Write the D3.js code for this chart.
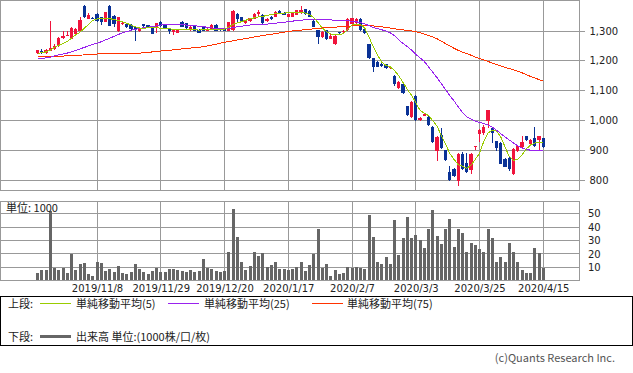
<!DOCTYPE html>
<html><head><meta charset="utf-8">
<script src="https://cdn.jsdelivr.net/npm/d3@7"></script>
<style>body{margin:0;background:#fff}svg{display:block}</style>
</head><body><svg id="c" width="633" height="373"></svg>
<script>
const dates = ["2019/10/17","2019/10/18","2019/10/21","2019/10/23","2019/10/24","2019/10/25","2019/10/28","2019/10/29","2019/10/30","2019/10/31",
"2019/11/1","2019/11/5","2019/11/6","2019/11/7","2019/11/8",
"2019/11/11","2019/11/12","2019/11/13","2019/11/14","2019/11/15","2019/11/18","2019/11/19","2019/11/20","2019/11/21","2019/11/22","2019/11/25","2019/11/26","2019/11/27","2019/11/28","2019/11/29",
"2019/12/2","2019/12/3","2019/12/4","2019/12/5","2019/12/6","2019/12/9","2019/12/10","2019/12/11","2019/12/12","2019/12/13","2019/12/16","2019/12/17","2019/12/18","2019/12/19","2019/12/20",
"2019/12/23","2019/12/24","2019/12/25","2019/12/26","2019/12/27","2019/12/30",
"2020/1/6","2020/1/7","2020/1/8","2020/1/9","2020/1/10","2020/1/14","2020/1/15","2020/1/16","2020/1/17",
"2020/1/20","2020/1/21","2020/1/22","2020/1/23","2020/1/24","2020/1/27","2020/1/28","2020/1/29","2020/1/30","2020/1/31",
"2020/2/3","2020/2/4","2020/2/5","2020/2/6","2020/2/7",
"2020/2/10","2020/2/12","2020/2/13","2020/2/14","2020/2/17","2020/2/18","2020/2/19","2020/2/20","2020/2/21","2020/2/25","2020/2/26","2020/2/27","2020/2/28","2020/3/2","2020/3/3",
"2020/3/4","2020/3/5","2020/3/6","2020/3/9","2020/3/10","2020/3/11","2020/3/12","2020/3/13","2020/3/16","2020/3/17","2020/3/18","2020/3/19","2020/3/23","2020/3/24","2020/3/25",
"2020/3/26","2020/3/27","2020/3/30","2020/3/31","2020/4/1","2020/4/2","2020/4/3","2020/4/6","2020/4/7","2020/4/8","2020/4/9","2020/4/10","2020/4/13","2020/4/14","2020/4/15"];

const open = [1225,1233,1225,1234,1240,1250,1278,1284,1274,1289,
1300,1384,1341,1344,1357,1346,1331,1384,1350,1300,
1324,1323,1320,1312,1300,1323,1319,1314,1314,1330,
1322,1307,1296,1294,1330,1326,1303,1319,1305,1314,
1301,1308,1321,1309,1309,1301,1303,1357,1346,1326,
1333,1341,1357,1354,1332,1348,1348,1367,1361,1348,
1348,1355,1359,1373,1367,1335,1303,1279,1303,1274,
1256,1295,1295,1303,1324,1326,1341,1306,1256,1208,
1197,1191,1189,1175,1149,1108,1124,1048,1012,1082,
1001,1016,1012,979,898,952,900,828,839,798,
887,857,836,911,954,959,997,976,931,925,
873,876,820,897,911,947,921,943,934,941];
const high = [1238,1240,1240,1334,1256,1280,1300,1300,1312,1310,
1346,1386,1359,1346,1360,1348,1365,1386,1352,1348,
1333,1325,1322,1314,1313,1325,1321,1316,1328,1332,
1324,1309,1305,1307,1334,1328,1316,1321,1307,1316,
1310,1323,1323,1311,1311,1331,1370,1359,1348,1337,
1344,1359,1370,1356,1343,1350,1366,1369,1363,1358,
1361,1372,1384,1375,1369,1337,1305,1300,1305,1292,
1285,1298,1302,1343,1345,1343,1343,1308,1258,1210,
1199,1193,1191,1182,1151,1132,1126,1050,1065,1084,
1012,1023,1014,982,950,976,902,847,841,890,
895,890,890,916,972,985,1037,978,933,927,
875,878,908,918,947,949,938,979,949,943];
const low = [1223,1222,1224,1232,1238,1248,1273,1283,1272,1287,
1298,1344,1340,1340,1331,1320,1329,1316,1314,1298,
1319,1310,1304,1268,1298,1315,1310,1289,1294,1315,
1309,1291,1288,1292,1312,1308,1301,1299,1292,1299,
1299,1306,1299,1301,1299,1299,1301,1326,1330,1324,
1331,1339,1350,1324,1330,1337,1346,1359,1352,1346,
1346,1353,1357,1354,1346,1312,1255,1277,1271,1272,
1253,1287,1293,1301,1322,1320,1301,1291,1206,1163,
1178,1180,1173,1173,1117,1106,1089,1016,1008,999,
999,1014,983,926,865,905,865,798,811,781,
834,825,822,901,928,951,975,925,897,854,
843,830,818,895,909,932,919,913,902,909];
const close = [1236,1227,1238,1244,1250,1278,1283,1288,1310,1308,
1337,1346,1355,1342,1333,1330,1363,1318,1322,1346,
1328,1312,1306,1305,1311,1317,1312,1291,1326,1317,
1311,1301,1303,1305,1314,1310,1314,1301,1294,1301,
1308,1321,1301,1303,1301,1329,1368,1339,1332,1335,
1342,1357,1364,1326,1341,1339,1364,1361,1354,1356,
1359,1370,1370,1356,1348,1314,1281,1298,1273,1283,
1283,1292,1300,1341,1342,1341,1303,1293,1208,1180,
1180,1182,1175,1180,1121,1130,1091,1018,1063,1001,
1010,1021,985,929,945,907,867,800,813,888,
839,828,888,914,970,979,1035,959,909,856,
845,837,906,916,929,934,936,915,947,911];
const volume = [5.7,7.7,7.7,51.8,9.7,7.7,9.7,5.7,19.7,7.7,
12.1,13.1,4.8,3.3,13.6,13.1,7.3,8.5,6.7,10.7,
5.7,4.9,6.3,12.1,8.5,6.7,4.9,7,9.7,6.3,
6.7,8.5,8.5,8,7.3,6.7,8,6.8,7,15.8,
9.4,8.5,7,6.3,7.3,21.7,53.5,32.7,14.3,7.7,
10.7,21.7,18.7,21,9.9,11.4,13.6,8.5,8.5,7.7,
8.5,9.9,13.6,7,11.4,20.2,38.6,9.2,12.8,3.3,
7.7,4.8,5.5,9.9,9.4,9.9,9.4,8.5,48.9,32.7,
13.6,12.8,18,12.1,45.2,19.5,32,47.4,32,34.2,
30.5,24.6,38.6,52.6,33.5,27.6,38.6,46,25.4,38.6,
35.7,21.7,28.3,26.8,23.9,21.7,38.6,32,13.6,17.3,
14.3,28.3,21.7,13.6,7.7,5.5,5.5,24.6,21,9.2];
const ma5 = [1225,1227,1230,1236,1245,1252,1258,1265,1276,1287,
1296,1309,1322,1336,1340,1342,1342,1341,1339,1335,
1331,1326,1320,1314,1310,1309,1311,1312,1311,1309,
1308,1307,1306,1306,1305,1306,1305,1304,1303,1304,
1305,1306,1306,1305,1306,1313,1322,1327,1331,1336,
1341,1344,1347,1349,1352,1355,1358,1359,1360,1361,
1361,1362,1362,1360,1355,1345,1328,1310,1298,1290,
1287,1287,1292,1305,1320,1323,1322,1310,1280,1247,
1220,1195,1185,1180,1168,1150,1128,1105,1085,1060,
1035,1025,1017,1000,982,950,923,890,870,852,
847,840,850,870,890,930,958,968,965,945,
912,880,867,870,885,905,918,925,926,925];
const ma25 = [1208,1208,1210,1212,1217,1220,1223,1226,1230,1235,
1240,1245,1250,1255,1259,1264,1270,1276,1282,1288,
1294,1298,1302,1306,1308,1311,1313,1315,1317,1320,
1322,1323,1323,1322,1321,1320,1319,1318,1316,1315,
1312,1310,1309,1309,1309,1309,1311,1314,1316,1318,
1320,1321,1322,1323,1323,1325,1326,1328,1329,1331,
1333,1335,1336,1338,1339,1339,1338,1338,1337,1337,
1336,1336,1335,1334,1333,1331,1328,1324,1318,1312,
1308,1304,1300,1294,1284,1270,1258,1248,1236,1222,
1210,1198,1180,1162,1144,1124,1104,1084,1066,1046,
1027,1013,1005,998,994,990,985,978,968,956,
945,935,925,915,908,903,901,901,901,901];
const ma75 = [1214,1214,1214,1214,1214,1215,1216,1217,1218,1219,
1219,1220,1221,1222,1223,1223,1223,1224,1224,1225,
1225,1225,1225,1226,1226,1227,1228,1230,1231,1233,
1234,1235,1237,1238,1240,1241,1243,1244,1246,1247,
1250,1253,1256,1259,1262,1265,1267,1270,1272,1275,
1277,1280,1282,1285,1287,1289,1291,1294,1296,1298,
1300,1301,1303,1304,1306,1307,1308,1310,1311,1312,
1313,1314,1315,1316,1317,1318,1318,1318,1318,1317,
1316,1314,1312,1310,1307,1306,1304,1302,1300,1298,
1294,1290,1285,1280,1274,1266,1258,1250,1242,1235,
1229,1224,1219,1213,1208,1203,1198,1193,1188,1183,
1178,1174,1170,1165,1160,1154,1148,1143,1137,1132];

const priceTicks = [800,900,1000,1100,1200,1300];
const volTicks = [10,20,30,40,50];
const dateTicks = ["2019/11/8","2019/11/29","2019/12/20","2020/1/17","2020/2/7","2020/3/3","2020/3/25","2020/4/15"];
const legendTop = [{label:"単純移動平均(5)", color:"#99cc00"},{label:"単純移動平均(25)", color:"#9922ee"},{label:"単純移動平均(75)", color:"#ff3300"}];

const UP = "#f0143c", DOWN = "#0a3296", GRID = "#999999";
const svg = d3.select("#c");
const NUM = "'DejaVu Sans', sans-serif";
const JP = "'Noto Sans CJK JP', 'Noto Sans', sans-serif";

const x = d3.scalePoint().domain(dates).range([37.5, 543.25]);
const y = d3.scaleLinear().domain([800,1300]).range([180.3, 31]);
const yv = d3.scaleLinear().domain([0,50]).range([280.7, 213.6]);

const L = 0.5, R = 579.5, T1 = 0.5, B1 = 190.5, T2 = 201.5, B2 = 280.5;
const px = v => Math.floor(v) + 0.5;

// grids
const g = svg.append("g").attr("shape-rendering","crispEdges");
g.selectAll(".hg").data(priceTicks).join("line")
  .attr("x1",L).attr("x2",R).attr("y1",d=>px(y(d))).attr("y2",d=>px(y(d))).attr("stroke",GRID);
g.selectAll(".vg").data(dateTicks).join("line")
  .attr("x1",d=>px(x(d))).attr("x2",d=>px(x(d))).attr("y1",T1).attr("y2",B1).attr("stroke",GRID);
g.selectAll(".hv").data(volTicks).join("line")
  .attr("x1",L).attr("x2",R).attr("y1",d=>px(yv(d))).attr("y2",d=>px(yv(d))).attr("stroke",GRID);
g.selectAll(".vv").data(dateTicks).join("line")
  .attr("x1",d=>px(x(d))).attr("x2",d=>px(x(d))).attr("y1",T2).attr("y2",B2).attr("stroke",GRID);

// candles
const idx = d3.range(dates.length);
const cg = svg.append("g").attr("shape-rendering","crispEdges");
cg.selectAll("line.w").data(idx).join("line")
  .attr("x1",i=>px(x(dates[i]))).attr("x2",i=>px(x(dates[i])))
  .attr("y1",i=>Math.round(y(high[i]))).attr("y2",i=>Math.round(y(low[i])))
  .attr("stroke",i=>close[i]>=open[i]?UP:DOWN);
cg.selectAll("rect.b").data(idx).join("rect")
  .attr("x",i=>Math.round(x(dates[i])-1.7))
  .attr("width",i=>Math.round(x(dates[i])+1.7)-Math.round(x(dates[i])-1.7))
  .attr("y",i=>Math.round(y(Math.max(open[i],close[i]))))
  .attr("height",i=>Math.max(1,Math.round(y(Math.min(open[i],close[i])))-Math.round(y(Math.max(open[i],close[i])))))
  .attr("fill",i=>close[i]>=open[i]?UP:DOWN);

// moving averages
[[ma75,"#ff3300"],[ma25,"#9922ee"],[ma5,"#99cc00"]].forEach(([arr,col])=>{
  svg.append("path").datum(idx)
    .attr("d", d3.line().x(i=>x(dates[i])).y(i=>y(arr[i])))
    .attr("fill","none").attr("stroke",col).attr("stroke-width",1)
    .attr("shape-rendering","crispEdges");
});

// volume
svg.append("g").attr("shape-rendering","crispEdges").selectAll("rect").data(idx).join("rect")
  .attr("x",i=>Math.round(x(dates[i])-1.5)).attr("width",3)
  .attr("y",i=>Math.round(yv(volume[i]))).attr("height",i=>Math.round(yv(0))-Math.round(yv(volume[i])))
  .attr("fill","#666666");

// frames
const fr = svg.append("g").attr("shape-rendering","crispEdges").attr("fill","none").attr("stroke",GRID);
fr.append("rect").attr("x",L).attr("y",T1).attr("width",R-L).attr("height",B1-T1);
fr.append("rect").attr("x",L).attr("y",T2).attr("width",R-L).attr("height",B2-T2);

// price axis
const ay = svg.append("g").attr("transform",`translate(${R},0)`)
  .call(d3.axisRight(y).tickValues(priceTicks).tickSize(5).tickPadding(5).tickFormat(d3.format(",")));
ay.select(".domain").remove();
ay.selectAll(".tick line").attr("stroke",GRID).attr("shape-rendering","crispEdges");
ay.selectAll(".tick").attr("transform",d=>`translate(0,${px(y(d))})`);
ay.selectAll("text").attr("font-family",NUM).attr("font-size",10).attr("fill","#222");

// volume axis
const av = svg.append("g").attr("transform",`translate(${R},0)`)
  .call(d3.axisRight(yv).tickValues(volTicks).tickSize(0).tickPadding(8.5));
av.select(".domain").remove();
av.selectAll("text").attr("font-family",NUM).attr("font-size",10).attr("fill","#222");

// date axis
const ax = svg.append("g").attr("transform",`translate(0,${B2})`)
  .call(d3.axisBottom(x).tickValues(dateTicks).tickSize(0).tickPadding(4));
ax.select(".domain").remove();
ax.selectAll("text").attr("font-family",NUM).attr("font-size",10).attr("fill","#222");

svg.append("text").attr("x",6).attr("y",212).attr("font-family",JP).attr("font-size",11).attr("fill","#222").text("単位: 1000");

// legend
svg.append("rect").attr("x",0.5).attr("y",296.5).attr("width",632).attr("height",49)
  .attr("fill","none").attr("stroke","#000").attr("shape-rendering","crispEdges");
const lx = [[40,71,76],[168,199,204],[312,343,347]];
svg.append("text").attr("x",8).attr("y",307.5).attr("font-family",JP).attr("font-size",11).attr("fill","#222").text("上段:");
legendTop.forEach((d,k)=>{
  svg.append("line").attr("x1",lx[k][0]).attr("x2",lx[k][1]).attr("y1",303.5).attr("y2",303.5)
    .attr("stroke",d.color).attr("shape-rendering","crispEdges");
  svg.append("text").attr("x",lx[k][2]).attr("y",307.5).attr("font-family",JP).attr("font-size",11).attr("fill","#222").text(d.label);
});
svg.append("text").attr("x",8).attr("y",340.5).attr("font-family",JP).attr("font-size",11).attr("fill","#222").text("下段:");
svg.append("line").attr("x1",40).attr("x2",71).attr("y1",336.5).attr("y2",336.5)
  .attr("stroke","#666").attr("stroke-width",3);
svg.append("text").attr("x",76).attr("y",340.5).attr("font-family",JP).attr("font-size",11).attr("fill","#222").text("出来高 単位:(1000株/口/枚)");

svg.append("text").attr("x",615).attr("y",362).attr("text-anchor","end").attr("font-family",JP)
  .attr("font-size",11).attr("fill","#555").text("(c)Quants Research Inc.");
</script></body></html>
